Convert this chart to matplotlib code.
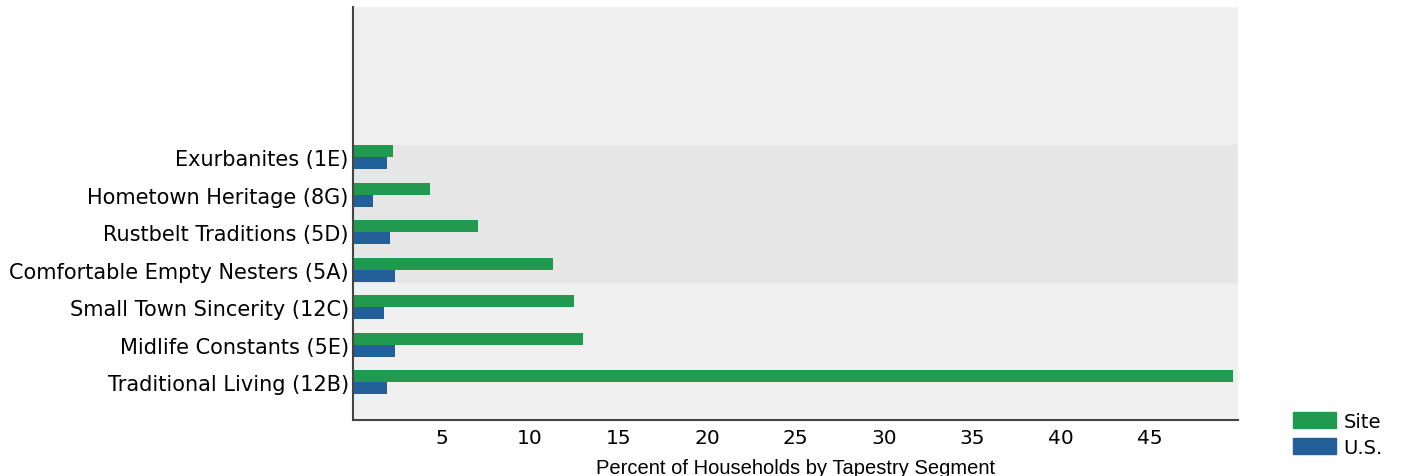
import matplotlib.pyplot as plt
import numpy as np
from matplotlib.patches import Patch

segments = ['Traditional Living (12B)', 'Midlife Constants (5E)', 'Small Town Sincerity (12C)',
            'Comfortable Empty Nesters (5A)', 'Rustbelt Traditions (5D)',
            'Hometown Heritage (8G)', 'Exurbanites (1E)']
site = [49.7, 13.0, 12.5, 11.3, 7.05, 4.33, 2.24]
us = [1.9, 2.4, 1.73, 2.4, 2.07, 1.16, 1.9]

green = '#21994f'
blue = '#23609a'

fig = plt.figure(figsize=(14.04, 4.77), dpi=100)
ax = fig.add_axes([0.2514, 0.1174, 0.6304, 0.8658])
ax.set_facecolor('#f0f0f0')

y = np.arange(len(segments))
h = 0.32
ax.axhspan(3 - h, 6 + h, color='#e6e6e6', zorder=0)
ax.barh(y + h / 2, site, height=h, color=green, zorder=2)
ax.barh(y - h / 2, us, height=h, color=blue, zorder=2)

ax.set_ylim(-1, 10)
ax.set_xlim(0, 50)
ax.set_yticks(y)
ax.set_yticklabels(segments, fontsize=15)
ax.set_xticks([5, 10, 15, 20, 25, 30, 35, 40, 45])
ax.tick_params(axis='x', labelsize=14.5, length=0, pad=6)
ax.tick_params(axis='y', length=0, pad=3)
for s in ['top', 'right']:
    ax.spines[s].set_visible(False)
for s in ['left', 'bottom']:
    ax.spines[s].set_color('#444444')
    ax.spines[s].set_linewidth(1.5)

ax.set_xlabel('Percent of Households by Tapestry Segment', fontsize=14.5,
              family='Liberation Sans', labelpad=8)

handles = [Patch(color=green, label='Site'), Patch(color=blue, label='U.S.')]
fig.legend(handles=handles, loc='lower left', bbox_to_anchor=(0.921, 0.04),
           frameon=False, fontsize=14, handlelength=2.2, handleheight=0.9,
           handletextpad=0.4, labelspacing=0.35, borderaxespad=0, borderpad=0)

fig.savefig('out.png')
